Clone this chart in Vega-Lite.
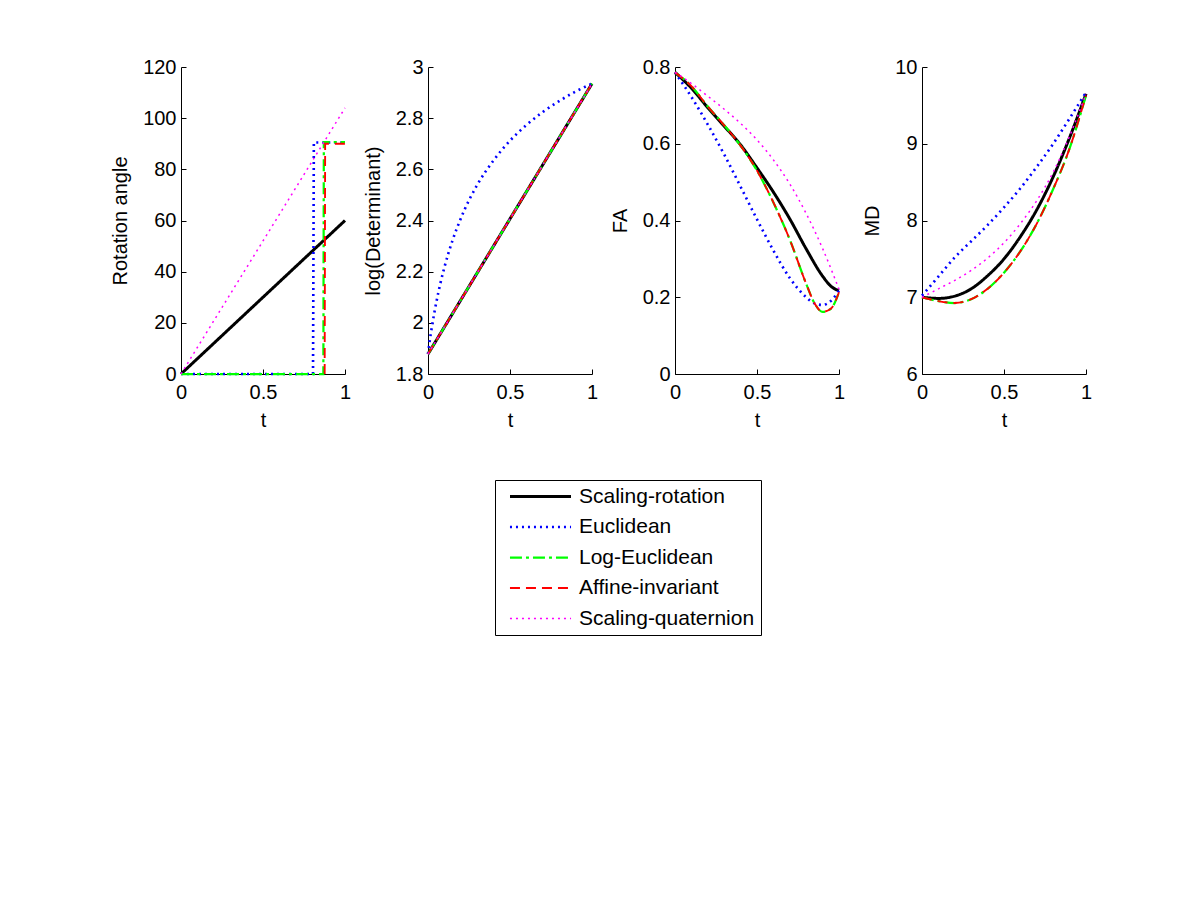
{
  "$schema": "https://vega.github.io/schema/vega-lite/v6.json",
  "padding": {"left": 110, "top": 57, "right": 5, "bottom": 5},
  "background": "white",
  "config": {
    "font": "Liberation Sans",
    "view": {"stroke": null},
    "axis": {
      "grid": false, "domainColor": "#000", "domainWidth": 1, "tickColor": "#000", "tickSize": -5, "tickWidth": 1,
      "labelFont": "Liberation Sans", "labelFontSize": 20, "labelColor": "#000", "labelPadding": 10, "labelFlush": false, "labelOverlap": false,
      "titleFont": "Liberation Sans", "titleFontSize": 20, "titleFontWeight": "normal", "titleColor": "#000"
    },
    "axisY": {"titlePadding": 12},
    "axisX": {"titlePadding": 8, "labelPadding": 13},
    "legend": {
      "strokeColor": "#000", "fillColor": "white", "padding": 6, "labelFont": "Liberation Sans", "labelFontSize": 21,
      "labelColor": "#000", "symbolSize": 233, "symbolType": "M-4,0H4", "symbolOffset": 29, "labelOffset": 28, "rowPadding": 8.5, "cornerRadius": 0, "labelLimit": 400
    }
  },
  "datasets": {
    "rot": [
      {"method": "Scaling-rotation", "t": 0, "v": 0}, {"method": "Scaling-rotation", "t": 0.5, "v": 30}, {"method": "Scaling-rotation", "t": 1, "v": 60},
      {"method": "Euclidean", "t": 0, "v": 0}, {"method": "Euclidean", "t": 0.4, "v": 0}, {"method": "Euclidean", "t": 0.805, "v": 0}, {"method": "Euclidean", "t": 0.81, "v": 90.5}, {"method": "Euclidean", "t": 1, "v": 90.5},
      {"method": "Log-Euclidean", "t": 0, "v": 0}, {"method": "Log-Euclidean", "t": 0.4, "v": 0}, {"method": "Log-Euclidean", "t": 0.868, "v": 0}, {"method": "Log-Euclidean", "t": 0.871, "v": 90.6}, {"method": "Log-Euclidean", "t": 1, "v": 90.6},
      {"method": "Affine-invariant", "t": 0.876, "v": 0}, {"method": "Affine-invariant", "t": 0.879, "v": 90}, {"method": "Affine-invariant", "t": 1, "v": 90},
      {"method": "Scaling-quaternion", "t": 0, "v": 0}, {"method": "Scaling-quaternion", "t": 0.5, "v": 52}, {"method": "Scaling-quaternion", "t": 1, "v": 104}
    ],
    "logdet": [
      {"method": "Scaling-rotation", "t": 0, "v": 1.878}, {"method": "Scaling-rotation", "t": 0.5, "v": 2.4065}, {"method": "Scaling-rotation", "t": 1, "v": 2.935},
      {"method": "Euclidean", "t": 0, "v": 1.878}, {"method": "Euclidean", "t": 0.01, "v": 1.927}, {"method": "Euclidean", "t": 0.025, "v": 1.989}, {"method": "Euclidean", "t": 0.05, "v": 2.078}, {"method": "Euclidean", "t": 0.075, "v": 2.153}, {"method": "Euclidean", "t": 0.1, "v": 2.217}, {"method": "Euclidean", "t": 0.15, "v": 2.323}, {"method": "Euclidean", "t": 0.2, "v": 2.408}, {"method": "Euclidean", "t": 0.3, "v": 2.539}, {"method": "Euclidean", "t": 0.4, "v": 2.635}, {"method": "Euclidean", "t": 0.5, "v": 2.712}, {"method": "Euclidean", "t": 0.6, "v": 2.773}, {"method": "Euclidean", "t": 0.7, "v": 2.824}, {"method": "Euclidean", "t": 0.8, "v": 2.867}, {"method": "Euclidean", "t": 0.9, "v": 2.904}, {"method": "Euclidean", "t": 1, "v": 2.935},
      {"method": "Log-Euclidean", "t": 0, "v": 1.878}, {"method": "Log-Euclidean", "t": 0.5, "v": 2.4065}, {"method": "Log-Euclidean", "t": 1, "v": 2.935},
      {"method": "Affine-invariant", "t": 0, "v": 1.878}, {"method": "Affine-invariant", "t": 0.5, "v": 2.4065}, {"method": "Affine-invariant", "t": 1, "v": 2.935},
      {"method": "Scaling-quaternion", "t": 0, "v": 1.878}, {"method": "Scaling-quaternion", "t": 0.5, "v": 2.4065}, {"method": "Scaling-quaternion", "t": 1, "v": 2.935}
    ],
    "fa": [
      {"method": "Scaling-rotation", "t": 0, "v": 0.786}, {"method": "Scaling-rotation", "t": 0.1, "v": 0.745}, {"method": "Scaling-rotation", "t": 0.2, "v": 0.694}, {"method": "Scaling-rotation", "t": 0.3, "v": 0.646}, {"method": "Scaling-rotation", "t": 0.4, "v": 0.597}, {"method": "Scaling-rotation", "t": 0.5, "v": 0.537}, {"method": "Scaling-rotation", "t": 0.6, "v": 0.474}, {"method": "Scaling-rotation", "t": 0.7, "v": 0.404}, {"method": "Scaling-rotation", "t": 0.8, "v": 0.326}, {"method": "Scaling-rotation", "t": 0.9, "v": 0.255}, {"method": "Scaling-rotation", "t": 0.95, "v": 0.229}, {"method": "Scaling-rotation", "t": 1, "v": 0.217},
      {"method": "Euclidean", "t": 0, "v": 0.786}, {"method": "Euclidean", "t": 0.1, "v": 0.722}, {"method": "Euclidean", "t": 0.2, "v": 0.65}, {"method": "Euclidean", "t": 0.3, "v": 0.572}, {"method": "Euclidean", "t": 0.4, "v": 0.488}, {"method": "Euclidean", "t": 0.5, "v": 0.403}, {"method": "Euclidean", "t": 0.6, "v": 0.322}, {"method": "Euclidean", "t": 0.7, "v": 0.25}, {"method": "Euclidean", "t": 0.8, "v": 0.2}, {"method": "Euclidean", "t": 0.85, "v": 0.184}, {"method": "Euclidean", "t": 0.9, "v": 0.18}, {"method": "Euclidean", "t": 0.95, "v": 0.19}, {"method": "Euclidean", "t": 1, "v": 0.217},
      {"method": "Log-Euclidean", "t": 0, "v": 0.786}, {"method": "Log-Euclidean", "t": 0.1, "v": 0.75}, {"method": "Log-Euclidean", "t": 0.2, "v": 0.697}, {"method": "Log-Euclidean", "t": 0.3, "v": 0.648}, {"method": "Log-Euclidean", "t": 0.4, "v": 0.595}, {"method": "Log-Euclidean", "t": 0.5, "v": 0.53}, {"method": "Log-Euclidean", "t": 0.6, "v": 0.447}, {"method": "Log-Euclidean", "t": 0.7, "v": 0.35}, {"method": "Log-Euclidean", "t": 0.8, "v": 0.235}, {"method": "Log-Euclidean", "t": 0.85, "v": 0.185}, {"method": "Log-Euclidean", "t": 0.9, "v": 0.162}, {"method": "Log-Euclidean", "t": 0.95, "v": 0.17}, {"method": "Log-Euclidean", "t": 1, "v": 0.213},
      {"method": "Affine-invariant", "t": 0, "v": 0.786}, {"method": "Affine-invariant", "t": 0.1, "v": 0.75}, {"method": "Affine-invariant", "t": 0.2, "v": 0.697}, {"method": "Affine-invariant", "t": 0.3, "v": 0.648}, {"method": "Affine-invariant", "t": 0.4, "v": 0.595}, {"method": "Affine-invariant", "t": 0.5, "v": 0.53}, {"method": "Affine-invariant", "t": 0.6, "v": 0.447}, {"method": "Affine-invariant", "t": 0.7, "v": 0.35}, {"method": "Affine-invariant", "t": 0.8, "v": 0.235}, {"method": "Affine-invariant", "t": 0.85, "v": 0.185}, {"method": "Affine-invariant", "t": 0.9, "v": 0.162}, {"method": "Affine-invariant", "t": 0.95, "v": 0.17}, {"method": "Affine-invariant", "t": 1, "v": 0.213},
      {"method": "Scaling-quaternion", "t": 0, "v": 0.786}, {"method": "Scaling-quaternion", "t": 0.1, "v": 0.757}, {"method": "Scaling-quaternion", "t": 0.2, "v": 0.724}, {"method": "Scaling-quaternion", "t": 0.3, "v": 0.69}, {"method": "Scaling-quaternion", "t": 0.4, "v": 0.653}, {"method": "Scaling-quaternion", "t": 0.5, "v": 0.61}, {"method": "Scaling-quaternion", "t": 0.6, "v": 0.558}, {"method": "Scaling-quaternion", "t": 0.7, "v": 0.495}, {"method": "Scaling-quaternion", "t": 0.8, "v": 0.418}, {"method": "Scaling-quaternion", "t": 0.9, "v": 0.327}, {"method": "Scaling-quaternion", "t": 1, "v": 0.221}
    ],
    "md": [
      {"method": "Scaling-rotation", "t": 0, "v": 7.0}, {"method": "Scaling-rotation", "t": 0.1, "v": 6.985}, {"method": "Scaling-rotation", "t": 0.2, "v": 7.015}, {"method": "Scaling-rotation", "t": 0.3, "v": 7.11}, {"method": "Scaling-rotation", "t": 0.4, "v": 7.28}, {"method": "Scaling-rotation", "t": 0.5, "v": 7.5}, {"method": "Scaling-rotation", "t": 0.6, "v": 7.79}, {"method": "Scaling-rotation", "t": 0.7, "v": 8.14}, {"method": "Scaling-rotation", "t": 0.8, "v": 8.57}, {"method": "Scaling-rotation", "t": 0.9, "v": 9.08}, {"method": "Scaling-rotation", "t": 1, "v": 9.65},
      {"method": "Euclidean", "t": 0, "v": 7.02}, {"method": "Euclidean", "t": 0.1, "v": 7.27}, {"method": "Euclidean", "t": 0.2, "v": 7.52}, {"method": "Euclidean", "t": 0.3, "v": 7.73}, {"method": "Euclidean", "t": 0.4, "v": 7.94}, {"method": "Euclidean", "t": 0.5, "v": 8.17}, {"method": "Euclidean", "t": 0.6, "v": 8.42}, {"method": "Euclidean", "t": 0.7, "v": 8.7}, {"method": "Euclidean", "t": 0.8, "v": 9.0}, {"method": "Euclidean", "t": 0.9, "v": 9.33}, {"method": "Euclidean", "t": 1, "v": 9.67},
      {"method": "Log-Euclidean", "t": 0, "v": 7.0}, {"method": "Log-Euclidean", "t": 0.1, "v": 6.95}, {"method": "Log-Euclidean", "t": 0.2, "v": 6.925}, {"method": "Log-Euclidean", "t": 0.3, "v": 6.975}, {"method": "Log-Euclidean", "t": 0.4, "v": 7.11}, {"method": "Log-Euclidean", "t": 0.5, "v": 7.32}, {"method": "Log-Euclidean", "t": 0.6, "v": 7.6}, {"method": "Log-Euclidean", "t": 0.7, "v": 7.96}, {"method": "Log-Euclidean", "t": 0.8, "v": 8.41}, {"method": "Log-Euclidean", "t": 0.9, "v": 8.94}, {"method": "Log-Euclidean", "t": 1, "v": 9.63},
      {"method": "Affine-invariant", "t": 0, "v": 7.0}, {"method": "Affine-invariant", "t": 0.1, "v": 6.95}, {"method": "Affine-invariant", "t": 0.2, "v": 6.925}, {"method": "Affine-invariant", "t": 0.3, "v": 6.975}, {"method": "Affine-invariant", "t": 0.4, "v": 7.11}, {"method": "Affine-invariant", "t": 0.5, "v": 7.32}, {"method": "Affine-invariant", "t": 0.6, "v": 7.6}, {"method": "Affine-invariant", "t": 0.7, "v": 7.96}, {"method": "Affine-invariant", "t": 0.8, "v": 8.41}, {"method": "Affine-invariant", "t": 0.9, "v": 8.94}, {"method": "Affine-invariant", "t": 1, "v": 9.63},
      {"method": "Scaling-quaternion", "t": 0, "v": 7.0}, {"method": "Scaling-quaternion", "t": 0.1, "v": 7.11}, {"method": "Scaling-quaternion", "t": 0.2, "v": 7.22}, {"method": "Scaling-quaternion", "t": 0.3, "v": 7.35}, {"method": "Scaling-quaternion", "t": 0.4, "v": 7.51}, {"method": "Scaling-quaternion", "t": 0.5, "v": 7.71}, {"method": "Scaling-quaternion", "t": 0.6, "v": 7.96}, {"method": "Scaling-quaternion", "t": 0.7, "v": 8.26}, {"method": "Scaling-quaternion", "t": 0.8, "v": 8.63}, {"method": "Scaling-quaternion", "t": 0.9, "v": 9.1}, {"method": "Scaling-quaternion", "t": 1, "v": 9.65}
    ]
  },
  "spacing": 83,
  "bounds": "flush",
  "hconcat": [
    {
      "width": 164, "height": 307,
      "data": {"name": "rot"},
      "mark": {"type": "line", "interpolate": "linear"},
      "encoding": {
        "x": {"field": "t", "type": "quantitative", "scale": {"domain": [0, 1], "nice": false}, "axis": {"values": [0, 0.5, 1], "format": "~r", "title": "t"}},
        "y": {"field": "v", "type": "quantitative", "scale": {"domain": [0, 120], "nice": false}, "axis": {"values": [0, 20, 40, 60, 80, 100, 120], "format": "~r", "title": "Rotation angle"}},
        "color": {"field": "method", "type": "nominal", "scale": {"domain": ["Scaling-rotation", "Euclidean", "Log-Euclidean", "Affine-invariant", "Scaling-quaternion"], "range": ["#000000", "#0000ff", "#00ff00", "#ff0000", "#ff00ff"]}, "legend": {"title": null, "orient": "none", "legendX": 314, "legendY": 413}},
        "strokeDash": {"field": "method", "type": "nominal", "scale": {"domain": ["Scaling-rotation", "Euclidean", "Log-Euclidean", "Affine-invariant", "Scaling-quaternion"], "range": [[1, 0], [2, 4], [12, 4, 3, 4], [10, 6], [2, 4]]}, "legend": {"title": null, "orient": "none", "legendX": 314, "legendY": 413}},
        "strokeWidth": {"field": "method", "type": "nominal", "scale": {"domain": ["Scaling-rotation", "Euclidean", "Log-Euclidean", "Affine-invariant", "Scaling-quaternion"], "range": [3, 1.5, 3, 3, 1.5]}, "legend": {"title": null, "orient": "none", "legendX": 314, "legendY": 413}}
      }
    },
    {
      "width": 164, "height": 307,
      "data": {"name": "logdet"},
      "mark": {"type": "line", "interpolate": "monotone"},
      "encoding": {
        "x": {"field": "t", "type": "quantitative", "scale": {"domain": [0, 1], "nice": false}, "axis": {"values": [0, 0.5, 1], "format": "~r", "title": "t"}},
        "y": {"field": "v", "type": "quantitative", "scale": {"domain": [1.8, 3], "nice": false, "zero": false}, "axis": {"values": [1.8, 2, 2.2, 2.4, 2.6, 2.8, 3], "format": "~r", "title": "log(Determinant)"}},
        "color": {"field": "method", "type": "nominal", "scale": {"domain": ["Scaling-rotation", "Euclidean", "Log-Euclidean", "Affine-invariant", "Scaling-quaternion"], "range": ["#000000", "#0000ff", "#00ff00", "#ff0000", "#ff00ff"]}, "legend": {"title": null, "orient": "none", "legendX": 314, "legendY": 413}},
        "strokeDash": {"field": "method", "type": "nominal", "scale": {"domain": ["Scaling-rotation", "Euclidean", "Log-Euclidean", "Affine-invariant", "Scaling-quaternion"], "range": [[1, 0], [2, 4], [12, 4, 3, 4], [10, 6], [2, 4]]}, "legend": {"title": null, "orient": "none", "legendX": 314, "legendY": 413}},
        "strokeWidth": {"field": "method", "type": "nominal", "scale": {"domain": ["Scaling-rotation", "Euclidean", "Log-Euclidean", "Affine-invariant", "Scaling-quaternion"], "range": [3, 1.5, 3, 3, 1.5]}, "legend": {"title": null, "orient": "none", "legendX": 314, "legendY": 413}}
      }
    },
    {
      "width": 164, "height": 307,
      "data": {"name": "fa"},
      "mark": {"type": "line", "interpolate": "monotone"},
      "encoding": {
        "x": {"field": "t", "type": "quantitative", "scale": {"domain": [0, 1], "nice": false}, "axis": {"values": [0, 0.5, 1], "format": "~r", "title": "t"}},
        "y": {"field": "v", "type": "quantitative", "scale": {"domain": [0, 0.8], "nice": false}, "axis": {"values": [0, 0.2, 0.4, 0.6, 0.8], "format": "~r", "title": "FA"}},
        "color": {"field": "method", "type": "nominal", "scale": {"domain": ["Scaling-rotation", "Euclidean", "Log-Euclidean", "Affine-invariant", "Scaling-quaternion"], "range": ["#000000", "#0000ff", "#00ff00", "#ff0000", "#ff00ff"]}, "legend": {"title": null, "orient": "none", "legendX": 314, "legendY": 413}},
        "strokeDash": {"field": "method", "type": "nominal", "scale": {"domain": ["Scaling-rotation", "Euclidean", "Log-Euclidean", "Affine-invariant", "Scaling-quaternion"], "range": [[1, 0], [2, 4], [12, 4, 3, 4], [10, 6], [2, 4]]}, "legend": {"title": null, "orient": "none", "legendX": 314, "legendY": 413}},
        "strokeWidth": {"field": "method", "type": "nominal", "scale": {"domain": ["Scaling-rotation", "Euclidean", "Log-Euclidean", "Affine-invariant", "Scaling-quaternion"], "range": [3, 1.5, 3, 3, 1.5]}, "legend": {"title": null, "orient": "none", "legendX": 314, "legendY": 413}}
      }
    },
    {
      "width": 164, "height": 307,
      "data": {"name": "md"},
      "mark": {"type": "line", "interpolate": "monotone"},
      "encoding": {
        "x": {"field": "t", "type": "quantitative", "scale": {"domain": [0, 1], "nice": false}, "axis": {"values": [0, 0.5, 1], "format": "~r", "title": "t"}},
        "y": {"field": "v", "type": "quantitative", "scale": {"domain": [6, 10], "nice": false, "zero": false}, "axis": {"values": [6, 7, 8, 9, 10], "format": "~r", "title": "MD"}},
        "color": {"field": "method", "type": "nominal", "scale": {"domain": ["Scaling-rotation", "Euclidean", "Log-Euclidean", "Affine-invariant", "Scaling-quaternion"], "range": ["#000000", "#0000ff", "#00ff00", "#ff0000", "#ff00ff"]}, "legend": {"title": null, "orient": "none", "legendX": 314, "legendY": 413}},
        "strokeDash": {"field": "method", "type": "nominal", "scale": {"domain": ["Scaling-rotation", "Euclidean", "Log-Euclidean", "Affine-invariant", "Scaling-quaternion"], "range": [[1, 0], [2, 4], [12, 4, 3, 4], [10, 6], [2, 4]]}, "legend": {"title": null, "orient": "none", "legendX": 314, "legendY": 413}},
        "strokeWidth": {"field": "method", "type": "nominal", "scale": {"domain": ["Scaling-rotation", "Euclidean", "Log-Euclidean", "Affine-invariant", "Scaling-quaternion"], "range": [3, 1.5, 3, 3, 1.5]}, "legend": {"title": null, "orient": "none", "legendX": 314, "legendY": 413}}
      }
    }
  ]
}
